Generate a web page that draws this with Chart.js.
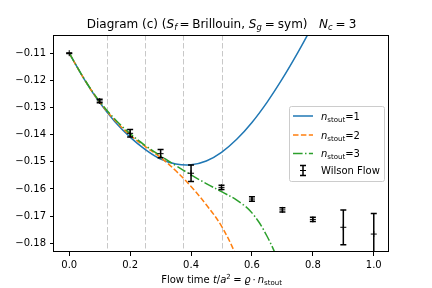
<!DOCTYPE html>
<html>
<head>
<meta charset="utf-8">
<script src="https://cdn.jsdelivr.net/npm/chart.js@4.4.0/dist/chart.umd.min.js"></script>
<style>
  body { margin: 0; background: #fff; }
  canvas { display: block; }
</style>
</head>
<body>
<canvas id="chart" width="432" height="288"></canvas>
<script>
// curves for n_stout = 1, 2, 3
const xStout1 = [0, 0.05, 0.1, 0.15, 0.2, 0.25, 0.3, 0.35, 0.4, 0.45, 0.5, 0.55, 0.6, 0.65, 0.7, 0.75, 0.8];
const yStout1 = [-0.1100, -0.1197, -0.1282, -0.1352, -0.1409, -0.1455, -0.1490, -0.1508, -0.1511, -0.1497, -0.1465, -0.1417, -0.1355, -0.1280, -0.1194, -0.1099, -0.0997];
const xStout2 = [0, 0.05, 0.1, 0.15, 0.2, 0.25, 0.3, 0.35, 0.4, 0.45, 0.5, 0.55, 0.6];
const yStout2 = [-0.1100, -0.1197, -0.1280, -0.1347, -0.1402, -0.1444, -0.1484, -0.1533, -0.1591, -0.1658, -0.1737, -0.1850, -0.1990];
const xStout3 = [0, 0.05, 0.1, 0.15, 0.2, 0.25, 0.3, 0.35, 0.4, 0.45, 0.5, 0.55, 0.6, 0.65, 0.7];
const yStout3 = [-0.1100, -0.1196, -0.1278, -0.1343, -0.1396, -0.1440, -0.1478, -0.1514, -0.1548, -0.1580, -0.1610, -0.1641, -0.1688, -0.1775, -0.1900];

// Wilson flow reference points
const wilsonX = [0, 0.1, 0.2, 0.3, 0.4, 0.5, 0.6, 0.7, 0.8, 0.9, 1.0];
const wilsonY = [-0.1100, -0.1276, -0.1395, -0.1470, -0.1542, -0.1594, -0.1637, -0.1677, -0.1712, -0.1741, -0.1766];
const wilsonErr = [0.0001, 0.0006, 0.0014, 0.0015, 0.0030, 0.0008, 0.0008, 0.0008, 0.0008, 0.0064, 0.0076];

const guideX = [0.125, 0.25, 0.375, 0.5];
const xTicks = [0, 0.2, 0.4, 0.6, 0.8, 1.0];
const yTicks = [-0.18, -0.17, -0.16, -0.15, -0.14, -0.13, -0.12, -0.11];
const nStout = [1, 2, 3];

const colors = ['#1f77b4', '#ff7f0e', '#2ca02c'];
const dashes = [[], [5.5, 2.4], [9.6, 2.4, 1.5, 2.4]];
const FONT = '"DejaVu Sans", sans-serif';

function pts(xs, ys) {
  return xs.map((x, i) => ({ x: x, y: ys[i] }));
}

// draws a run of text pieces (plain, italic, sub/superscript)
function rich(ctx, parts, x, y, align) {
  let w = 0;
  parts.forEach(p => {
    ctx.font = (p.i ? 'italic ' : '') + p.s + 'px ' + FONT;
    p.w = ctx.measureText(p.t).width;
    w += p.w + (p.l || 0) + (p.r || 0);
  });
  let cx = align === 'center' ? x - w / 2 : x;
  ctx.textAlign = 'left';
  ctx.textBaseline = 'alphabetic';
  ctx.fillStyle = '#000';
  parts.forEach(p => {
    cx += p.l || 0;
    ctx.font = (p.i ? 'italic ' : '') + p.s + 'px ' + FONT;
    ctx.fillText(p.t, cx, y + (p.dy || 0));
    cx += p.w + (p.r || 0);
  });
}

function errorBar(ctx, x, yTop, yBot, cap) {
  ctx.beginPath();
  ctx.moveTo(x, yTop);
  ctx.lineTo(x, yBot);
  ctx.stroke();
  ctx.beginPath();
  ctx.moveTo(x - cap, yTop);
  ctx.lineTo(x + cap, yTop);
  ctx.moveTo(x - cap, yBot);
  ctx.lineTo(x + cap, yBot);
  ctx.stroke();
}

const decor = {
  id: 'decor',
  beforeDatasetsDraw(chart) {
    const { ctx, chartArea, scales } = chart;
    ctx.save();
    ctx.strokeStyle = '#c8c8c8';
    ctx.lineWidth = 1;
    ctx.setLineDash([5.5, 2.5]);
    guideX.forEach(g => {
      const px = Math.round(scales.x.getPixelForValue(g)) + 0.5;
      ctx.beginPath();
      ctx.moveTo(px, chartArea.top);
      ctx.lineTo(px, chartArea.bottom);
      ctx.stroke();
    });
    ctx.restore();
  },
  afterDatasetsDraw(chart) {
    const { ctx, chartArea, scales } = chart;
    ctx.save();
    ctx.beginPath();
    ctx.rect(chartArea.left, chartArea.top, chartArea.right - chartArea.left, chartArea.bottom - chartArea.top);
    ctx.clip();
    ctx.strokeStyle = '#000';
    ctx.lineWidth = 1.5;
    wilsonX.forEach((wx, i) => {
      const px = scales.x.getPixelForValue(wx);
      errorBar(ctx, px, scales.y.getPixelForValue(wilsonY[i] + wilsonErr[i]),
        scales.y.getPixelForValue(wilsonY[i] - wilsonErr[i]), 3);
    });
    ctx.restore();

    // frame
    ctx.save();
    ctx.strokeStyle = '#000';
    ctx.lineWidth = 1;
    ctx.strokeRect(Math.round(chartArea.left) - 0.5, Math.round(chartArea.top) + 0.5,
      Math.round(chartArea.right - chartArea.left), Math.round(chartArea.bottom - chartArea.top) - 1);
    ctx.restore();

    // title
    ctx.save();
    rich(ctx, [
      { t: 'Diagram (c) (', s: 12 },
      { t: 'S', s: 12, i: true },
      { t: 'f', s: 8.4, i: true, dy: 2.5 },
      { t: '=', s: 12, l: 2.5, r: 2.5 },
      { t: 'Brillouin, ', s: 12 },
      { t: 'S', s: 12, i: true },
      { t: 'g', s: 8.4, i: true, dy: 2.5 },
      { t: '=', s: 12, l: 3, r: 3 },
      { t: 'sym)   ', s: 12 },
      { t: 'N', s: 12, i: true },
      { t: 'c', s: 8.4, i: true, dy: 2.5 },
      { t: '=', s: 12, l: 3, r: 3 },
      { t: '3', s: 12 }
    ], (chartArea.left + chartArea.right) / 2, 27.5, 'center');

    // x label
    rich(ctx, [
      { t: 'Flow time ', s: 10 },
      { t: 't', s: 10, i: true },
      { t: '/', s: 10 },
      { t: 'a', s: 10, i: true },
      { t: '2', s: 7, dy: -4 },
      { t: '=', s: 10, l: 2.5, r: 2.5 },
      { t: '\u03f1', s: 10, i: true },
      { t: '\u00b7', s: 10, l: 2, r: 2 },
      { t: 'n', s: 10, i: true },
      { t: 'stout', s: 7, dy: 2 }
    ], (chartArea.left + chartArea.right) / 2, 282.5, 'center');

    // legend
    const bx = 289.5, by = 106.5, bw = 95, bh = 75;
    ctx.fillStyle = 'rgba(255,255,255,0.8)';
    ctx.strokeStyle = '#cccccc';
    ctx.lineWidth = 1;
    ctx.beginPath();
    ctx.roundRect(bx, by, bw, bh, 2);
    ctx.fill();
    ctx.stroke();
    const rowsY = [116, 135, 153.5, 170.5];
    nStout.forEach((n, k) => {
      const ry = rowsY[k];
      ctx.strokeStyle = colors[k];
      ctx.lineWidth = 1.5;
      ctx.setLineDash(dashes[k]);
      ctx.beginPath();
      ctx.moveTo(293, ry);
      ctx.lineTo(313, ry);
      ctx.stroke();
      ctx.setLineDash([]);
      rich(ctx, [
        { t: 'n', s: 10, i: true },
        { t: 'stout', s: 7, dy: 2 },
        { t: '=' + n, s: 10 }
      ], 321, ry + 3.5, 'left');
    });
    const wy = rowsY[3];
    ctx.strokeStyle = '#000';
    ctx.lineWidth = 1.5;
    errorBar(ctx, 303, wy - 5, wy + 5, 3);
    ctx.lineWidth = 1;
    ctx.beginPath();
    ctx.moveTo(300, wy);
    ctx.lineTo(306, wy);
    ctx.stroke();
    rich(ctx, [{ t: 'Wilson Flow', s: 10 }], 321, wy + 3.5, 'left');
    ctx.restore();
  }
};

const tickFont = { family: FONT, size: 10 };

new Chart(document.getElementById('chart'), {
  type: 'line',
  data: {
    datasets: [
      { data: pts(xStout1, yStout1), borderColor: colors[0], borderDash: dashes[0], order: 3 },
      { data: pts(xStout2, yStout2), borderColor: colors[1], borderDash: dashes[1], order: 2 },
      { data: pts(xStout3, yStout3), borderColor: colors[2], borderDash: dashes[2], order: 1 },
      {
        data: pts(wilsonX, wilsonY), showLine: false, order: 0,
        pointStyle: 'cross', pointRadius: 3, pointBorderWidth: 1,
        pointBorderColor: '#000', borderColor: '#000'
      }
    ]
  },
  options: {
    responsive: false,
    animation: false,
    devicePixelRatio: 1,
    layout: { padding: { top: 35, right: 43, left: 0, bottom: 0 } },
    elements: {
      line: { borderWidth: 1.5, tension: 0.4, fill: false },
      point: { radius: 0 }
    },
    plugins: {
      legend: { display: false },
      title: { display: false },
      tooltip: { enabled: false }
    },
    scales: {
      x: {
        type: 'linear',
        min: -0.05,
        max: 1.05,
        afterBuildTicks: s => { s.ticks = xTicks.map(v => ({ value: v })); },
        afterFit: s => { s.height = 36; },
        ticks: {
          font: tickFont, color: '#000', padding: 3, maxRotation: 0,
          callback: v => v.toFixed(1)
        },
        grid: { display: true, drawOnChartArea: false, drawTicks: true, tickLength: 4, color: '#000', lineWidth: 1 },
        border: { display: false }
      },
      y: {
        type: 'linear',
        min: -0.1832,
        max: -0.1033,
        afterBuildTicks: s => { s.ticks = yTicks.map(v => ({ value: v })); },
        afterFit: s => { s.width = 54; },
        ticks: {
          font: tickFont, color: '#000', padding: 4,
          callback: v => '\u2212' + Math.abs(v).toFixed(2)
        },
        grid: { display: true, drawOnChartArea: false, drawTicks: true, tickLength: 4, color: '#000', lineWidth: 1 },
        border: { display: false }
      }
    }
  },
  plugins: [decor]
});
</script>
</body>
</html>
